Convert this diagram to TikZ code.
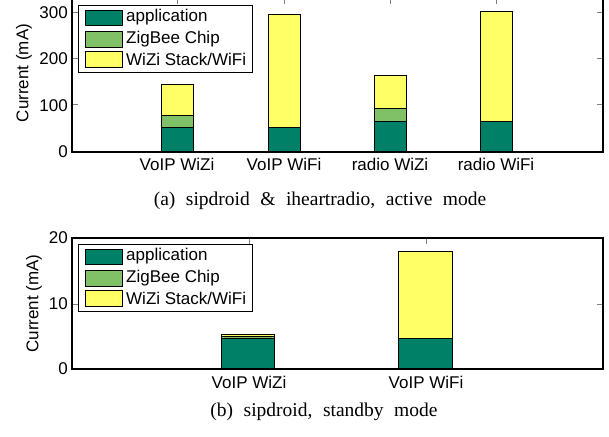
\documentclass[tikz,border=0pt]{standalone}
\usepackage{fontspec}
\setmainfont{Liberation Serif}
\setsansfont{Liberation Sans}
\definecolor{appc}{HTML}{008066}
\definecolor{zigc}{HTML}{80C066}
\definecolor{wific}{HTML}{FFFF66}
\definecolor{tickc}{HTML}{808080}
\tikzset{
  appbar/.style={fill=appc,draw=black,line width=0.8bp},
  zigbar/.style={fill=zigc,draw=black,line width=0.8bp},
  wifibar/.style={fill=wific,draw=black,line width=0.8bp},
  axbox/.style={draw=black,line width=1.1bp},
  tk/.style={draw=tickc,line width=1bp},
  lbl/.style={font=\sffamily\fontsize{17bp}{20bp}\selectfont,inner sep=0pt},
  ticklbl/.style={lbl,anchor=east},
  xlbl/.style={lbl,anchor=base},
  leglbl/.style={lbl,anchor=west},
  legbox/.style={draw=black,fill=white,line width=0.9bp},
  captxt/.style={font=\rmfamily\fontsize{19.5bp}{22bp}\selectfont,inner sep=0pt,anchor=base}
}
\begin{document}
\begin{tikzpicture}[x=1bp,y=-1bp]
\useasboundingbox (0,0) rectangle (609,437);
\clip (0,0) rectangle (609,437);
% ---------------- top plot ----------------
\fill[white] (72,-1.5) rectangle (603,152);
% ticks
\foreach \xx in {177,284,390,496}{
  \draw[tk] (\xx,-1.5) -- (\xx,4.5);
  \draw[tk] (\xx,152) -- (\xx,146);
}
\foreach \yy in {13,59,105}{
  \draw[tk] (603,\yy) -- (597,\yy);
  \draw[tk] (72,\yy) -- (78,\yy);
}
% bars
\draw[appbar] (161,152) rectangle (193,127);
\draw[zigbar] (161,127) rectangle (193,115);
\draw[wifibar] (161,115) rectangle (193,84.4);
\draw[appbar] (268,152) rectangle (300,127);
\draw[wifibar] (268,127) rectangle (300,14.4);
\draw[appbar] (374,152) rectangle (406,121.9);
\draw[zigbar] (374,121.9) rectangle (406,108.9);
\draw[wifibar] (374,108.9) rectangle (406,75.1);
\draw[appbar] (480,152) rectangle (512,121.9);
\draw[wifibar] (480,121.9) rectangle (512,11.2);
\draw[axbox] (72,-1.5) rectangle (603,152);
% tick labels
\node[ticklbl] (ta0) at (68,152) {0};
\node[ticklbl] (ta1) at (68,105.5) {100};
\node[ticklbl] (ta2) at (68,59) {200};
\node[ticklbl] (ta3) at (68,13) {300};
\node[xlbl] (xa1) at (177,170.5) {VoIP WiZi};
\node[xlbl] (xa2) at (284,170.5) {VoIP WiFi};
\node[xlbl] (xa3) at (390,170.5) {radio WiZi};
\node[xlbl] (xa4) at (496,170.5) {radio WiFi};
\node[lbl,rotate=90] (ya) at (24,73) {Current (mA)};
% legend
\draw[legbox] (78,5) rectangle (252,72);
\draw[appbar] (85,10) rectangle (122,25);
\draw[zigbar] (85,31) rectangle (122,47);
\draw[wifibar] (85,51) rectangle (122,67);
\node[leglbl] (la1) at (126,17.5) {application};
\node[leglbl] (la2) at (126,39) {ZigBee Chip};
\node[leglbl] (la3) at (126,59) {WiZi Stack/WiFi};
\node[captxt] (capa) at (320,206) {\spaceskip=10.5bp (a) sipdroid \& iheartradio, active mode};
% ---------------- bottom plot ----------------
\foreach \xx in {249,426}{
  \draw[tk] (\xx,238) -- (\xx,244);
  \draw[tk] (\xx,369) -- (\xx,363);
}
\draw[tk] (603,304) -- (597,304);
\draw[tk] (72,304) -- (78,304);
\draw[appbar] (221,369) rectangle (274,338.2);
\draw[zigbar] (221,338.2) rectangle (274,336.6);
\draw[wifibar] (221,336.6) rectangle (274,334);
\draw[appbar] (398,369) rectangle (452,338.2);
\draw[wifibar] (398,338.2) rectangle (452,251.8);
\draw[axbox] (72,238) rectangle (603,369);
\node[ticklbl] (tb0) at (68,369) {0};
\node[ticklbl] (tb1) at (68,304) {10};
\node[ticklbl] (tb2) at (68,238) {20};
\node[xlbl] (xb1) at (249,388) {VoIP WiZi};
\node[xlbl] (xb2) at (426,388) {VoIP WiFi};
\node[lbl,rotate=90] (yb) at (34,303.5) {Current (mA)};
\draw[legbox] (78,244) rectangle (252,311);
\draw[appbar] (85,249) rectangle (122,264);
\draw[zigbar] (85,270) rectangle (122,286);
\draw[wifibar] (85,290) rectangle (122,306);
\node[leglbl] (lb1) at (126,256.5) {application};
\node[leglbl] (lb2) at (126,278) {ZigBee Chip};
\node[leglbl] (lb3) at (126,298) {WiZi Stack/WiFi};
\node[captxt] (capb) at (324,416) {\spaceskip=10.5bp (b) sipdroid, standby mode};
\end{tikzpicture}
\end{document}
